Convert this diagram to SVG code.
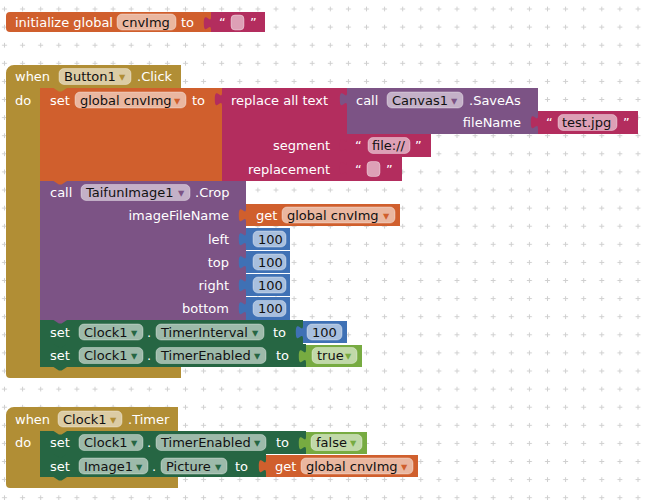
<svg xmlns="http://www.w3.org/2000/svg" width="645" height="500" viewBox="0 0 645 500">
<defs>
<pattern id="grid" width="18.1" height="18.1" patternUnits="userSpaceOnUse" x="-4.55" y="-0.05">
<path d="M6.55,9.05 h5 M9.05,6.55 v5" stroke="#cfcfcf" stroke-width="1" fill="none"/>
</pattern>
<style>
.l{font-family:"DejaVu Sans",sans-serif;font-size:13px;fill:#fff}
.e{text-anchor:end}
.t{font-family:"DejaVu Sans",sans-serif;font-size:13px;fill:#111}
.a{font-family:"DejaVu Sans",sans-serif;font-size:12.5px}
.p{fill:#fff;fill-opacity:.55;stroke:#fff;stroke-opacity:.35;stroke-width:1}
.or{fill:#D05F2D}.mg{fill:#B32D5E}.pu{fill:#7C5385}.go{fill:#B18E35}.gr{fill:#266643}.bl{fill:#3F71B5}.lg{fill:#77AB41}
</style>
</defs>
<rect width="645" height="500" fill="#fff"/>
<rect width="645" height="500" fill="url(#grid)"/>

<g id="init-global">
<path class="or" d="M10,12 H212 V32 H10 a4,4 0 0 1 -4,-4 V16 a4,4 0 0 1 4,-4 Z"/>
<text class="l" x="15" y="26.5">initialize global</text>
<rect class="p" x="117" y="14" width="59" height="16" rx="5"/>
<text class="t" x="122" y="26.5">cnvImg</text>
<text class="l" x="181" y="26.5">to</text>
<path class="mg" d="M211,12 H265 V32 H211 V30 C211,21 203.8,37.2 203.8,23.25 C203.8,9.3 211,25.5 211,16.5 Z"/>
<text class="l" x="219" y="26.5">“</text>
<rect class="p" x="231" y="15" width="13" height="15" rx="4"/>
<text class="l" x="250" y="26.5">”</text>
</g>

<g id="when-button1-click">
<path class="go" d="M6,73 a8,8 0 0 1 8,-8 H181 V88 H40 V367 H181 V378 H10 a4,4 0 0 1 -4,-4 Z"/>
<text class="l" x="15" y="81">when</text>
<rect class="p" x="59" y="68.5" width="72" height="16" rx="5"/>
<text class="t" x="64" y="81">Button1</text>
<text class="a go" x="119" y="81">▾</text>
<text class="l" x="137" y="81">.Click</text>
<text class="l" x="15" y="104.5">do</text>
</g>

<g id="set-global-cnvimg">
<rect class="or" x="40" y="88" width="183" height="93"/>
<text class="l" x="50" y="104.5">set</text>
<rect class="p" x="75" y="92" width="111" height="16" rx="5"/>
<text class="t" x="80" y="104.5">global cnvImg</text>
<text class="a or" x="174" y="104.5">▾</text>
<text class="l" x="192" y="104.5">to</text>
</g>

<g id="replace-all-text">
<path class="mg" d="M222,88 H347 V181 H222 V106 C222,97 214.8,113.2 214.8,99.25 C214.8,85.3 222,101.5 222,92.5 Z"/>
<text class="l" x="231" y="104.5">replace all text</text>
<text class="l e" x="330" y="150">segment</text>
<text class="l e" x="330" y="173.5">replacement</text>
</g>

<g id="call-canvas-saveas">
<path class="pu" d="M347,88 H538 V134 H347 V106 C347,97 339.8,113.2 339.8,99.25 C339.8,85.3 347,101.5 347,92.5 Z"/>
<text class="l" x="356" y="104.5">call</text>
<rect class="p" x="387" y="92" width="76" height="16" rx="5"/>
<text class="t" x="392" y="104.5">Canvas1</text>
<text class="a pu" x="451" y="104.5">▾</text>
<text class="l" x="469" y="104.5">.SaveAs</text>
<text class="l e" x="521" y="127">fileName</text>
</g>

<g id="text-test-jpg">
<path class="mg" d="M538,111 H638 V134 H538 V129 C538,120 530.8,136.2 530.8,122.25 C530.8,108.3 538,124.5 538,115.5 Z"/>
<text class="l" x="546" y="127">“</text>
<rect class="p" x="558" y="114.5" width="59" height="16" rx="5"/>
<text class="t" x="562" y="127">test.jpg</text>
<text class="l" x="623" y="127">”</text>
</g>

<g id="text-file">
<path class="mg" d="M347,134 H431 V157 H347 V152 C347,143 339.8,159.2 339.8,145.25 C339.8,131.3 347,147.5 347,138.5 Z"/>
<text class="l" x="355" y="150">“</text>
<rect class="p" x="368" y="137.5" width="42" height="16" rx="5"/>
<text class="t" x="372" y="150">file://</text>
<text class="l" x="415" y="150">”</text>
</g>

<g id="text-empty">
<path class="mg" d="M347,157 H402 V181 H347 V175 C347,166 339.8,182.2 339.8,168.25 C339.8,154.3 347,170.5 347,161.5 Z"/>
<text class="l" x="355" y="173.5">“</text>
<rect class="p" x="367" y="161.5" width="13" height="15" rx="4"/>
<text class="l" x="386" y="173.5">”</text>
</g>

<g id="call-taifun-crop">
<rect class="pu" x="40" y="181" width="206" height="139"/>
<text class="l" x="50" y="197">call</text>
<rect class="p" x="81" y="184.5" width="109" height="16" rx="5"/>
<text class="t" x="86" y="197">TaifunImage1</text>
<text class="a pu" x="178" y="197">▾</text>
<text class="l" x="195" y="197">.Crop</text>
<text class="l e" x="229" y="219.5">imageFileName</text>
<text class="l e" x="229" y="243.5">left</text>
<text class="l e" x="229" y="266.5">top</text>
<text class="l e" x="229" y="289.5">right</text>
<text class="l e" x="229" y="313">bottom</text>
</g>

<g id="get-cnvimg-1">
<path class="or" d="M246,204 H400 V226 H246 V222 C246,213 238.8,229.2 238.8,215.25 C238.8,201.3 246,217.5 246,208.5 Z"/>
<text class="l" x="256" y="219.5">get</text>
<rect class="p" x="282" y="207" width="113" height="16" rx="5"/>
<text class="t" x="287" y="219.5">global cnvImg</text>
<text class="a or" x="383" y="219.5">▾</text>
</g>

<g id="num-left">
<path class="bl" d="M246,228 H290 V250 H246 V246 C246,237 238.8,253.2 238.8,239.25 C238.8,225.3 246,241.5 246,232.5 Z"/>
<rect class="p" x="253" y="231" width="33" height="16" rx="5"/>
<text class="t" x="258" y="243.5">100</text>
</g>
<g id="num-top">
<path class="bl" d="M246,251 H290 V273 H246 V269 C246,260 238.8,276.2 238.8,262.25 C238.8,248.3 246,264.5 246,255.5 Z"/>
<rect class="p" x="253" y="254" width="33" height="16" rx="5"/>
<text class="t" x="258" y="266.5">100</text>
</g>
<g id="num-right">
<path class="bl" d="M246,274 H290 V296 H246 V292 C246,283 238.8,299.2 238.8,285.25 C238.8,271.3 246,287.5 246,278.5 Z"/>
<rect class="p" x="253" y="277" width="33" height="16" rx="5"/>
<text class="t" x="258" y="289.5">100</text>
</g>
<g id="num-bottom">
<path class="bl" d="M246,297 H290 V320 H246 V315 C246,306 238.8,322.2 238.8,308.25 C238.8,294.3 246,310.5 246,301.5 Z"/>
<rect class="p" x="253" y="300.5" width="33" height="16" rx="5"/>
<text class="t" x="258" y="313">100</text>
</g>

<g id="set-clock-interval">
<rect class="gr" x="40" y="320" width="263" height="24"/>
<text class="l" x="50" y="336.5">set</text>
<rect class="p" x="79" y="324" width="64" height="16" rx="5"/>
<text class="t" x="84" y="336.5">Clock1</text>
<text class="a gr" x="131" y="336.5">▾</text>
<text class="l" x="147" y="336.5">.</text>
<rect class="p" x="156" y="324" width="108" height="16" rx="5"/>
<text class="t" x="161" y="336.5">TimerInterval</text>
<text class="a gr" x="252" y="336.5">▾</text>
<text class="l" x="273" y="336.5">to</text>
</g>
<g id="num-interval">
<path class="bl" d="M303,321 H347 V343 H303 V339 C303,330 295.8,346.2 295.8,332.25 C295.8,318.3 303,334.5 303,325.5 Z"/>
<rect class="p" x="307" y="324" width="35" height="16" rx="5"/>
<text class="t" x="312" y="336.5">100</text>
</g>

<g id="set-clock-enabled-1">
<rect class="gr" x="40" y="344" width="266" height="23"/>
<text class="l" x="50" y="360">set</text>
<rect class="p" x="79" y="347.5" width="64" height="16" rx="5"/>
<text class="t" x="84" y="360">Clock1</text>
<text class="a gr" x="131" y="360">▾</text>
<text class="l" x="147" y="360">.</text>
<rect class="p" x="156" y="347.5" width="110" height="16" rx="5"/>
<text class="t" x="161" y="360">TimerEnabled</text>
<text class="a gr" x="254" y="360">▾</text>
<text class="l" x="276" y="360">to</text>
</g>
<g id="bool-true">
<path class="lg" d="M306,345 H362 V367 H306 V363 C306,354 298.8,370.2 298.8,356.25 C298.8,342.3 306,358.5 306,349.5 Z"/>
<rect class="p" x="312" y="347.5" width="45" height="16" rx="5"/>
<text class="t" x="317" y="360">true</text>
<text class="a lg" x="345" y="360">▾</text>
</g>

<g id="when-clock-timer">
<path class="go" d="M6,415 a8,8 0 0 1 8,-8 H178 V431 H40 V477 H178 V488 H10 a4,4 0 0 1 -4,-4 Z"/>
<text class="l" x="15" y="423.5">when</text>
<rect class="p" x="58" y="411" width="64" height="16" rx="5"/>
<text class="t" x="63" y="423.5">Clock1</text>
<text class="a go" x="110" y="423.5">▾</text>
<text class="l" x="128" y="423.5">.Timer</text>
<text class="l" x="15" y="447">do</text>
</g>

<g id="set-clock-enabled-2">
<rect class="gr" x="40" y="431" width="266" height="23"/>
<text class="l" x="50" y="447">set</text>
<rect class="p" x="79" y="434.5" width="64" height="16" rx="5"/>
<text class="t" x="84" y="447">Clock1</text>
<text class="a gr" x="131" y="447">▾</text>
<text class="l" x="147" y="447">.</text>
<rect class="p" x="156" y="434.5" width="110" height="16" rx="5"/>
<text class="t" x="161" y="447">TimerEnabled</text>
<text class="a gr" x="254" y="447">▾</text>
<text class="l" x="276" y="447">to</text>
</g>
<g id="bool-false">
<path class="lg" d="M306,432 H367 V454 H306 V450 C306,441 298.8,457.2 298.8,443.25 C298.8,429.3 306,445.5 306,436.5 Z"/>
<rect class="p" x="311" y="434.5" width="51" height="16" rx="5"/>
<text class="t" x="316" y="447">false</text>
<text class="a lg" x="350" y="447">▾</text>
</g>

<g id="set-image-picture">
<rect class="gr" x="40" y="454" width="226" height="23"/>
<text class="l" x="50" y="470.5">set</text>
<rect class="p" x="79" y="458" width="69" height="16" rx="5"/>
<text class="t" x="84" y="470.5">Image1</text>
<text class="a gr" x="136" y="470.5">▾</text>
<text class="l" x="152" y="470.5">.</text>
<rect class="p" x="161" y="458" width="66" height="16" rx="5"/>
<text class="t" x="166" y="470.5">Picture</text>
<text class="a gr" x="215" y="470.5">▾</text>
<text class="l" x="235" y="470.5">to</text>
</g>
<g id="get-cnvimg-2">
<path class="or" d="M266,455 H418 V477 H266 V473 C266,464 258.8,480.2 258.8,466.25 C258.8,452.3 266,468.5 266,459.5 Z"/>
<text class="l" x="275" y="470.5">get</text>
<rect class="p" x="301" y="458" width="112" height="16" rx="5"/>
<text class="t" x="306" y="470.5">global cnvImg</text>
<text class="a or" x="401" y="470.5">▾</text>
</g>

<g id="connectors">
<path class="go" d="M53.5,88 l5.4,3.6 h2.7 l5.4,-3.6 z"/>
<path class="or" d="M53.5,181 l5.4,3.6 h2.7 l5.4,-3.6 z"/>
<path class="pu" d="M53.5,320 l5.4,3.6 h2.7 l5.4,-3.6 z"/>
<path class="gr" d="M53.5,344 l5.4,3.6 h2.7 l5.4,-3.6 z"/>
<path class="gr" d="M53.5,367 l5.4,3.6 h2.7 l5.4,-3.6 z"/>
<path class="go" d="M53.5,431 l5.4,3.6 h2.7 l5.4,-3.6 z"/>
<path class="gr" d="M53.5,454 l5.4,3.6 h2.7 l5.4,-3.6 z"/>
<path class="gr" d="M53.5,477 l5.4,3.6 h2.7 l5.4,-3.6 z"/>
</g>
</svg>
